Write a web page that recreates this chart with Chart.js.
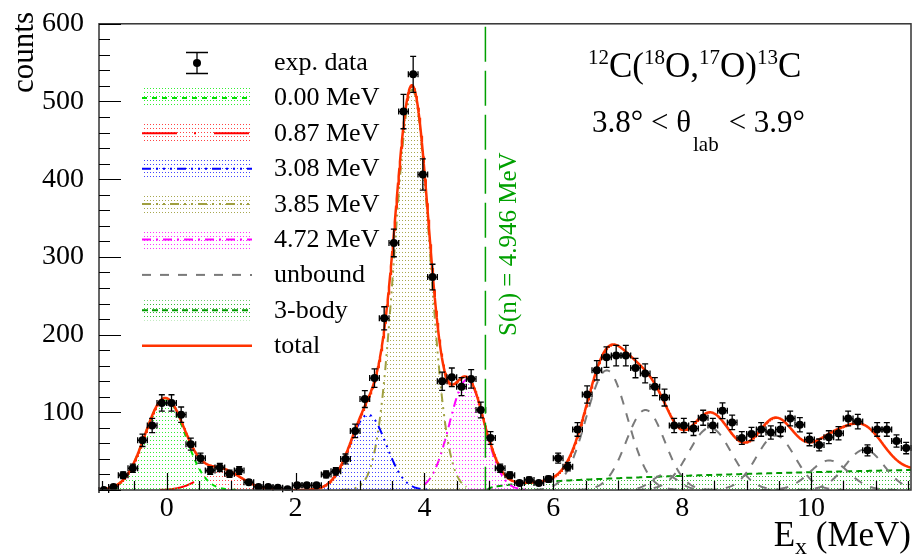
<!DOCTYPE html>
<html>
<head>
<meta charset="utf-8">
<script src="https://cdn.jsdelivr.net/npm/chart.js@4.4.1/dist/chart.umd.min.js"></script>
<style>
  html, body { margin: 0; padding: 0; background: #fff; }
  #wrap { width: 915px; height: 559px; position: relative; }
</style>
</head>
<body>
<div id="wrap"><canvas id="spectrum"></canvas></div>
<script>
// histogram: 84 bins of 0.15 MeV from -1.05 to 11.55 MeV
const binCenters = [
  -0.975, -0.825, -0.675, -0.525, -0.375, -0.225, -0.075, 0.075, 0.225, 0.375,
  0.525, 0.675, 0.825, 0.975, 1.125, 1.275, 1.425, 1.575, 1.725, 1.875,
  2.025, 2.175, 2.325, 2.475, 2.625, 2.775, 2.925, 3.075, 3.225, 3.375,
  3.525, 3.675, 3.825, 3.975, 4.125, 4.275, 4.425, 4.575, 4.725, 4.875,
  5.025, 5.175, 5.325, 5.475, 5.625, 5.775, 5.925, 6.075, 6.225, 6.375,
  6.525, 6.675, 6.825, 6.975, 7.125, 7.275, 7.425, 7.575, 7.725, 7.875,
  8.025, 8.175, 8.325, 8.475, 8.625, 8.775, 8.925, 9.075, 9.225, 9.375,
  9.525, 9.675, 9.825, 9.975, 10.125, 10.275, 10.425, 10.575, 10.725, 10.875,
  11.025, 11.175, 11.325, 11.475
];
const counts = [
  0, 4, 19, 28, 64, 83, 112, 112, 97, 59,
  41, 25, 29, 21, 25, 10, 4, 4, 3, 1,
  6, 6, 6, 20, 24, 40, 76, 117, 144, 221,
  318, 487, 535, 406, 274, 140, 145, 133, 143, 103,
  67, 28, 19, 9, 13, 9, 14, 41, 30, 78,
  123, 154, 171, 173, 173, 157, 150, 133, 119, 83,
  83, 79, 93, 83, 102, 87, 67, 72, 78, 74,
  78, 92, 84, 65, 58, 68, 73, 92, 88, 51,
  78, 78, 63, 54
];
const binHalfWidth = 0.075;

// bound states (gaussian fit components)
const peakLabels  = ['0.00 MeV', '0.87 MeV', '3.08 MeV', '3.85 MeV', '4.72 MeV'];
const peakCenters = [-0.025, 0.845, 3.125, 3.81, 4.66];
const peakAmps    = [118, 26, 97, 515, 142];
const peakSigmas  = [0.31, 0.31, 0.28, 0.27, 0.27];
const peakFrom    = [-1.05, -0.1, 2.4, 2.7, 4.0];
const peakTo      = [1.1, 2.0, 4.05, 4.65, 5.6];

// unbound states
const unboundCenters = [6.83, 7.43, 7.73, 8.43, 9.45, 10.28, 10.83];
const unboundAmps    = [154, 103, 20, 80, 70, 38, 52];
const unboundSigmas  = [0.32, 0.30, 0.20, 0.33, 0.30, 0.30, 0.30];

// 3-body continuum: scale * (E - threshold)^power
const threeBodyThreshold = 4.98;
const threeBodyScale = 11.06;
const threeBodyPower = 0.45;

const xTicks = [0, 2, 4, 6, 8, 10];
const yTicks = [0, 100, 200, 300, 400, 500, 600];
const neutronSep = 4.946;

const X_MIN = -1.05, X_MAX = 11.55;

function gauss(x, c, a, s) { return a * Math.exp(-0.5 * ((x - c) / s) ** 2); }
function threeBody(x) { return x > threeBodyThreshold ? threeBodyScale * Math.pow(x - threeBodyThreshold, threeBodyPower) : 0; }

const grid = [];
for (let k = 0; k <= 1260; k++) grid.push(+(X_MIN + k * 0.01).toFixed(3));

function curve(fn, from, to) {
  return grid.filter(x => x >= from - 1e-9 && x <= to + 1e-9).map(x => ({ x: x, y: fn(x) }));
}

function totalAt(x) {
  let v = threeBody(x);
  peakCenters.forEach((c, i) => { v += gauss(x, c, peakAmps[i], peakSigmas[i]); });
  unboundCenters.forEach((c, i) => { v += gauss(x, c, unboundAmps[i], unboundSigmas[i]); });
  return v;
}

// sparse dotted fill like ROOT's pattern fill
function dotPattern(color) {
  const c = document.createElement('canvas');
  c.width = 3; c.height = 4;
  const g = c.getContext('2d');
  g.fillStyle = color;
  g.fillRect(0, 0, 1, 1);
  return g.createPattern(c, 'repeat');
}

const peakStyles = [
  { line: '#00e000', dots: '#33ee33', dash: [5, 5] },
  { line: '#ff0000', dots: '#ff4444', dash: [35, 17, 2, 18] },
  { line: '#0000ff', dots: '#4444ff', dash: [9, 5, 2, 5, 2, 5, 2, 5] },
  { line: '#a0a040', dots: '#a8a850', dash: [9, 5, 2, 5, 2, 5] },
  { line: '#ff00ff', dots: '#ff33ff', dash: [9, 5, 2, 5] }
];
const unboundStyle = { line: '#7a7a7a', dash: [9, 9] };
const threeBodyStyle = { line: '#009a00', dots: '#33bb33', dash: [6, 4] };
const totalColor = '#ff3300';

peakStyles.forEach(s => { s.pattern = dotPattern(s.dots); });
threeBodyStyle.pattern = dotPattern(threeBodyStyle.dots);

const datasets = [];
datasets.push({
  label: 'exp. data',
  data: binCenters.map((x, i) => ({ x: x, y: counts[i] })),
  showLine: false, pointRadius: 4, pointHoverRadius: 4,
  pointBackgroundColor: '#000', pointBorderColor: '#000', pointBorderWidth: 0
});
datasets.push({
  label: 'total', data: curve(totalAt, X_MIN, X_MAX),
  showLine: true, pointRadius: 0, borderColor: totalColor, borderWidth: 2.5, fill: false
});
unboundCenters.forEach((c, i) => {
  const s = unboundSigmas[i];
  datasets.push({
    label: 'unbound', data: curve(x => gauss(x, c, unboundAmps[i], s), c - 3.5 * s, c + 3.5 * s),
    showLine: true, pointRadius: 0, borderColor: unboundStyle.line, borderWidth: 2,
    borderDash: unboundStyle.dash, fill: false
  });
});
peakCenters.forEach((c, i) => {
  datasets.push({
    label: peakLabels[i], data: curve(x => gauss(x, c, peakAmps[i], peakSigmas[i]), peakFrom[i], peakTo[i]),
    showLine: true, pointRadius: 0, borderColor: peakStyles[i].line, borderWidth: 2,
    borderDash: peakStyles[i].dash, fill: 'origin', backgroundColor: peakStyles[i].pattern
  });
});
datasets.push({
  label: '3-body', data: curve(threeBody, threeBodyThreshold, X_MAX),
  showLine: true, pointRadius: 0, borderColor: threeBodyStyle.line, borderWidth: 2,
  borderDash: threeBodyStyle.dash, fill: 'origin', backgroundColor: threeBodyStyle.pattern
});

const SERIF = '"Liberation Serif", "Times New Roman", serif';

// error bars drawn right before the data points
const errorBars = {
  id: 'errorBars',
  beforeDatasetDraw(chart, args) {
    if (args.index !== 0) return;
    const xs = chart.scales.x, ys = chart.scales.y, ctx = chart.ctx;
    ctx.save();
    ctx.strokeStyle = '#000';
    ctx.lineWidth = 1.3;
    binCenters.forEach((e, i) => {
      const n = counts[i], err = Math.sqrt(n);
      const px = xs.getPixelForValue(e), py = ys.getPixelForValue(n);
      const top = ys.getPixelForValue(n + err), bot = ys.getPixelForValue(Math.max(0, n - err));
      const xl = xs.getPixelForValue(e - binHalfWidth), xr = xs.getPixelForValue(e + binHalfWidth);
      ctx.beginPath();
      ctx.moveTo(px, top); ctx.lineTo(px, bot);
      if (err > 0) {
        ctx.moveTo(px - 3, top); ctx.lineTo(px + 3, top);
        ctx.moveTo(px - 3, bot); ctx.lineTo(px + 3, bot);
      }
      ctx.moveTo(xl, py); ctx.lineTo(xr, py);
      ctx.moveTo(xl, py - 3); ctx.lineTo(xl, py + 3);
      ctx.moveTo(xr, py - 3); ctx.lineTo(xr, py + 3);
      ctx.stroke();
    });
    ctx.restore();
  }
};

function drawRuns(ctx, runs, x, y) {
  runs.forEach(r => {
    ctx.font = r.size + 'px ' + SERIF;
    ctx.fillText(r.t, x, y + (r.dy || 0));
    x += ctx.measureText(r.t).width + (r.gap || 0);
  });
  return x;
}
function runsWidth(ctx, runs) {
  let w = 0;
  runs.forEach(r => { ctx.font = r.size + 'px ' + SERIF; w += ctx.measureText(r.t).width + (r.gap || 0); });
  return w;
}

const decorations = {
  id: 'decorations',
  afterDatasetsDraw(chart) {
    const ctx = chart.ctx, xs = chart.scales.x, a = chart.chartArea;
    ctx.save();
    // neutron separation line
    const sx = xs.getPixelForValue(neutronSep);
    ctx.strokeStyle = '#00a000';
    ctx.lineWidth = 1.5;
    ctx.setLineDash([35, 9]);
    ctx.beginPath(); ctx.moveTo(sx, a.top + 3); ctx.lineTo(sx, a.bottom); ctx.stroke();
    ctx.setLineDash([]);
    ctx.restore();
  },
  afterDraw(chart) {
    const ctx = chart.ctx, xs = chart.scales.x, ys = chart.scales.y, a = chart.chartArea;
    ctx.save();
    // frame
    ctx.strokeStyle = '#333';
    ctx.lineWidth = 1.5;
    ctx.strokeRect(a.left, a.top, a.right - a.left, a.bottom - a.top);
    ctx.strokeStyle = '#000';
    ctx.lineWidth = 1.2;
    ctx.beginPath();
    for (let v = 0; v <= 600; v += 20) {
      const p = Math.round(ys.getPixelForValue(v)) + 0.5;
      const len = v % 100 === 0 ? 22 : 11;
      ctx.moveTo(a.left, p); ctx.lineTo(a.left + len, p);
    }
    for (let v = -1; v <= 11.5; v += 0.5) {
      const p = Math.round(xs.getPixelForValue(v)) + 0.5;
      const len = (Math.abs(v % 2) < 1e-9) ? 17 : 9;
      ctx.moveTo(p, a.bottom); ctx.lineTo(p, a.bottom - len);
    }
    ctx.stroke();

    // legend
    const lx0 = 142, lx1 = 252, tx = 274;
    const base0 = 70, step = 35.4;
    ctx.fillStyle = '#000';
    ctx.font = '26px ' + SERIF;
    ctx.textBaseline = 'alphabetic';
    // exp. data marker
    ctx.lineWidth = 1.3;
    ctx.beginPath();
    ctx.moveTo(197, 52.5); ctx.lineTo(197, 73.5);
    ctx.moveTo(186, 52.5); ctx.lineTo(208, 52.5);
    ctx.moveTo(186, 73.5); ctx.lineTo(208, 73.5);
    ctx.stroke();
    ctx.beginPath(); ctx.arc(197, 63, 4, 0, Math.PI * 2); ctx.fill();
    ctx.fillText('exp. data', tx, base0);

    const rows = peakLabels.map((l, i) => ({ label: l, style: peakStyles[i], fill: true }));
    rows.push({ label: 'unbound', style: unboundStyle, fill: false });
    rows.push({ label: '3-body', style: threeBodyStyle, fill: true });
    rows.push({ label: 'total', style: { line: totalColor, dash: [] }, fill: false, width: 2.5 });
    rows.forEach((r, i) => {
      const b = base0 + step * (i + 1);
      const cy = b - 7.5;
      if (r.fill) { ctx.fillStyle = r.style.pattern; ctx.fillRect(lx0, cy - 10, lx1 - lx0, 20); }
      ctx.strokeStyle = r.style.line;
      ctx.lineWidth = r.width || 2;
      ctx.setLineDash(r.style.dash);
      ctx.beginPath(); ctx.moveTo(lx0, cy); ctx.lineTo(lx1, cy); ctx.stroke();
      ctx.setLineDash([]);
      ctx.fillStyle = '#000';
      ctx.font = '26px ' + SERIF;
      ctx.fillText(r.label, tx, b);
    });

    // reaction title
    ctx.fillStyle = '#000';
    drawRuns(ctx, [
      { t: '12', size: 21, dy: -13 }, { t: 'C(', size: 35 },
      { t: '18', size: 21, dy: -13 }, { t: 'O,', size: 35 },
      { t: '17', size: 21, dy: -13 }, { t: 'O)', size: 35 },
      { t: '13', size: 21, dy: -13 }, { t: 'C', size: 35 }
    ], 588, 77);
    let x = drawRuns(ctx, [{ t: '3.8\u00B0 < \u03B8', size: 31 }], 592, 132);
    x = drawRuns(ctx, [{ t: 'lab', size: 21, dy: 19 }], x + 2, 132);
    drawRuns(ctx, [{ t: '< 3.9\u00B0', size: 31 }], x + 10, 132);

    // axis titles
    const xt = [{ t: 'E', size: 35 }, { t: 'x', size: 24, dy: 8 }, { t: ' (MeV)', size: 35 }];
    drawRuns(ctx, xt, a.right - runsWidth(ctx, xt), 546);

    ctx.save();
    ctx.translate(33, 12);
    ctx.rotate(-Math.PI / 2);
    ctx.font = '31px ' + SERIF;
    ctx.textAlign = 'right';
    ctx.fillText('counts', 0, 0);
    ctx.restore();

    // S(n) label
    ctx.save();
    ctx.translate(516, 336);
    ctx.rotate(-Math.PI / 2);
    ctx.fillStyle = '#00a000';
    ctx.font = '25px ' + SERIF;
    ctx.fillText('S(n) = 4.946 MeV', 0, 0);
    ctx.restore();

    ctx.restore();
  }
};

new Chart(document.getElementById('spectrum'), {
  type: 'scatter',
  data: { datasets: datasets },
  options: {
    responsive: true,
    maintainAspectRatio: false,
    devicePixelRatio: 1,
    animation: false,
    events: [],
    layout: { padding: { top: 13, right: 3, left: 0, bottom: 0 } },
    plugins: { legend: { display: false }, tooltip: { enabled: false } },
    scales: {
      x: {
        type: 'linear', min: X_MIN, max: X_MAX,
        afterBuildTicks: s => { s.ticks = xTicks.map(v => ({ value: v })); },
        afterFit: s => { s.height = 69; },
        grid: { display: false }, border: { display: false },
        ticks: { color: '#000', font: { family: SERIF, size: 28 }, padding: -6, maxRotation: 0, autoSkip: false }
      },
      y: {
        type: 'linear', min: 0, max: 600,
        afterBuildTicks: s => { s.ticks = yTicks.map(v => ({ value: v })); },
        afterFit: s => { s.width = 99; },
        grid: { display: false }, border: { display: false },
        ticks: { color: '#000', font: { family: SERIF, size: 28 }, padding: 7,
                 callback: v => (v === 0 ? '' : v) }
      }
    }
  },
  plugins: [errorBars, decorations]
});
</script>
</body>
</html>
